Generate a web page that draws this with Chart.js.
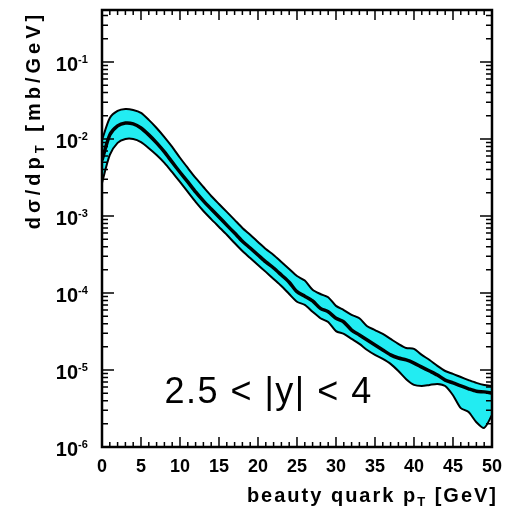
<!DOCTYPE html>
<html>
<head>
<meta charset="UTF-8">
<title>beauty quark pT spectrum</title>
<script src="https://cdn.jsdelivr.net/npm/chart.js"></script>
<style>
  body { margin: 0; background: #fff; }
  canvas { display: block; }
</style>
</head>
<body>
<canvas id="ptChart" width="511" height="512"></canvas>
<script>
// pT bins (GeV) and dsigma/dpT (mb/GeV): central value and the uncertainty band
const pt = [0,1,2,3,4,5,6,7,8,9,10,11,12,13,14,15,16,17,18,19,20,21,22,23,24,25,
            26,27,28,29,30,31,32,33,34,35,36,37,38,39,40,41,42,43,44,45,46,47,48,49,50];
const sigmaCentral = [
  5.3e-3, 1.13e-2, 1.48e-2, 1.61e-2, 1.57e-2, 1.39e-2, 1.13e-2, 8.9e-3, 6.8e-3, 5.0e-3,
  3.7e-3, 2.77e-3, 2.05e-3, 1.57e-3, 1.23e-3, 9.7e-4, 7.6e-4, 6.0e-4, 4.7e-4, 3.84e-4,
  3.12e-4, 2.53e-4, 2.11e-4, 1.71e-4, 1.38e-4, 1.04e-4, 9.1e-5, 7.9e-5, 6.3e-5, 5.7e-5,
  4.7e-5, 4.2e-5, 3.3e-5, 2.85e-5, 2.45e-5, 2.11e-5, 1.82e-5, 1.57e-5, 1.43e-5, 1.35e-5,
  1.23e-5, 1.09e-5, 9.7e-6, 8.6e-6, 7.4e-6, 6.8e-6, 6.2e-6, 5.7e-6, 5.3e-6, 5.2e-6, 5.0e-6
];
const sigmaUp = [
  9.7e-3, 1.87e-2, 2.31e-2, 2.45e-2, 2.38e-2, 2.18e-2, 1.77e-2, 1.39e-2, 1.06e-2, 7.9e-3,
  5.7e-3, 4.2e-3, 3.12e-3, 2.38e-3, 1.82e-3, 1.43e-3, 1.13e-3, 8.9e-4, 7.0e-4, 5.7e-4,
  4.6e-4, 3.72e-4, 3.12e-4, 2.53e-4, 2.05e-4, 1.66e-4, 1.45e-4, 1.10e-4, 9.7e-5, 8.8e-5,
  6.8e-5, 6.0e-5, 5.2e-5, 4.7e-5, 3.7e-5, 3.3e-5, 2.94e-5, 2.53e-5, 2.18e-5, 1.93e-5,
  1.88e-5, 1.57e-5, 1.35e-5, 1.13e-5, 9.7e-6, 8.9e-6, 8.1e-6, 7.4e-6, 6.8e-6, 6.4e-6, 6.2e-6
];
const sigmaLow = [
  2.69e-3, 6.2e-3, 8.9e-3, 1.0e-2, 1.0e-2, 9.1e-3, 7.6e-3, 6.2e-3, 4.9e-3, 3.7e-3,
  2.77e-3, 2.05e-3, 1.52e-3, 1.16e-3, 9.1e-4, 7.2e-4, 5.7e-4, 4.45e-4, 3.5e-4, 2.85e-4,
  2.31e-4, 1.88e-4, 1.52e-4, 1.23e-4, 9.7e-5, 7.7e-5, 7.0e-5, 5.7e-5, 4.7e-5, 4.2e-5,
  3.2e-5, 2.94e-5, 2.53e-5, 2.18e-5, 1.82e-5, 1.57e-5, 1.39e-5, 1.2e-5, 9.7e-6, 7.6e-6,
  6.4e-6, 6.2e-6, 6.4e-6, 6.6e-6, 6.2e-6, 4.7e-6, 3.2e-6, 2.85e-6, 2.1e-6, 1.77e-6, 2.6e-6
];
const yDecades = [-6, -5, -4, -3, -2, -1];
const rapidityText = "2.5 < |y| < 4";
const rapidityPos = { x: 8, y: 3.7e-6 };

const toPoints = ys => pt.map((x, i) => ({ x: x, y: ys[i] }));
const FONT = '"Liberation Sans", Arial, sans-serif';

// draws text pieces left to right, a piece can be lowered/raised and smaller
function drawPieces(ctx, pieces, x, y) {
  let cx = x;
  pieces.forEach(p => {
    ctx.font = p.font;
    ctx.fillText(p.text, cx, y + (p.dy || 0));
    cx += ctx.measureText(p.text).width;
  });
}
function piecesWidth(ctx, pieces) {
  let w = 0;
  pieces.forEach(p => { ctx.font = p.font; w += ctx.measureText(p.text).width; });
  return w;
}

const framePlugin = {
  id: 'frame',
  afterDatasetsDraw(chart) {
    const { ctx, chartArea: a, scales: { x, y } } = chart;
    ctx.save();
    ctx.strokeStyle = '#000';
    ctx.fillStyle = '#000';

    // inward ticks on all four sides
    ctx.lineWidth = 1.5;
    ctx.beginPath();
    for (let v = 0; v <= 50; v++) {
      const px = x.getPixelForValue(v);
      const len = v % 5 === 0 ? 10 : 5;
      ctx.moveTo(px, a.bottom); ctx.lineTo(px, a.bottom - len);
      ctx.moveTo(px, a.top); ctx.lineTo(px, a.top + len);
    }
    yDecades.forEach(p => {
      for (let m = 1; m <= 9; m++) {
        const v = m * Math.pow(10, p);
        if (v > y.max) break;
        const py = y.getPixelForValue(v);
        const len = m === 1 ? 12 : 6;
        ctx.moveTo(a.left, py); ctx.lineTo(a.left + len, py);
        ctx.moveTo(a.right, py); ctx.lineTo(a.right - len, py);
      }
    });
    ctx.stroke();

    ctx.lineWidth = 2.5;
    ctx.strokeRect(a.left, a.top, a.right - a.left, a.bottom - a.top);

    // y tick labels 10^n
    yDecades.forEach(p => {
      const py = y.getPixelForValue(Math.pow(10, p));
      ctx.textAlign = 'right';
      ctx.textBaseline = 'alphabetic';
      ctx.font = 'bold 20px ' + FONT;
      ctx.fillText('10', 78, py + 9);
      ctx.textAlign = 'left';
      ctx.font = 'bold 11px ' + FONT;
      ctx.fillText('-' + Math.abs(p), 78, py + 1);
    });

    // y axis title
    ctx.save();
    ctx.translate(40, 120);
    ctx.rotate(-Math.PI / 2);
    ctx.textAlign = 'left';
    ctx.letterSpacing = '4px';
    const yTitle = [
      { text: 'd\u03c3/dp', font: 'bold 20px ' + FONT },
      { text: 'T', font: 'bold 13px ' + FONT, dy: 4 },
      { text: ' [mb/GeV]', font: 'bold 20px ' + FONT }
    ];
    drawPieces(ctx, yTitle, -piecesWidth(ctx, yTitle) / 2, 0);
    ctx.restore();

    // x axis title
    ctx.save();
    ctx.textAlign = 'left';
    ctx.letterSpacing = '2px';
    const xTitle = [
      { text: 'beauty quark p', font: 'bold 20px ' + FONT },
      { text: 'T', font: 'bold 13px ' + FONT, dy: 4 },
      { text: ' [GeV]', font: 'bold 20px ' + FONT }
    ];
    drawPieces(ctx, xTitle, 498 - piecesWidth(ctx, xTitle), 502);
    ctx.restore();

    // rapidity range
    ctx.save();
    ctx.letterSpacing = '1.5px';
    ctx.font = '36px ' + FONT;
    ctx.textAlign = 'left';
    ctx.fillText(rapidityText, x.getPixelForValue(rapidityPos.x), y.getPixelForValue(rapidityPos.y));
    ctx.restore();

    ctx.restore();
  }
};

new Chart(document.getElementById('ptChart'), {
  type: 'line',
  data: {
    datasets: [
      {
        label: 'upper',
        data: toPoints(sigmaUp),
        borderColor: '#000',
        borderWidth: 2,
        backgroundColor: '#22ecf2',
        fill: 2,
        pointRadius: 0,
        tension: 0.25
      },
      {
        label: 'central',
        data: toPoints(sigmaCentral),
        borderColor: '#000',
        borderWidth: 3.5,
        fill: false,
        pointRadius: 0,
        tension: 0.25
      },
      {
        label: 'lower',
        data: toPoints(sigmaLow),
        borderColor: '#000',
        borderWidth: 2,
        fill: false,
        pointRadius: 0,
        tension: 0.25
      }
    ]
  },
  options: {
    responsive: false,
    animation: false,
    devicePixelRatio: 1,
    layout: { autoPadding: false, padding: { top: 10, right: 16, left: 0, bottom: 0 } },
    plugins: {
      legend: { display: false },
      tooltip: { enabled: false },
      filler: { drawTime: 'beforeDatasetsDraw' }
    },
    scales: {
      x: {
        type: 'linear',
        min: 0,
        max: 50,
        grid: { display: false, drawTicks: false },
        border: { display: false },
        ticks: {
          stepSize: 5,
          padding: 9,
          color: '#000',
          font: { family: FONT, size: 18, weight: 'bold' }
        },
        afterFit(s) { s.height = 65; }
      },
      y: {
        type: 'logarithmic',
        min: 1e-6,
        max: 0.473,
        grid: { display: false, drawTicks: false },
        border: { display: false },
        ticks: { display: false },
        afterFit(s) { s.width = 102; }
      }
    }
  },
  plugins: [framePlugin]
});
</script>
</body>
</html>
